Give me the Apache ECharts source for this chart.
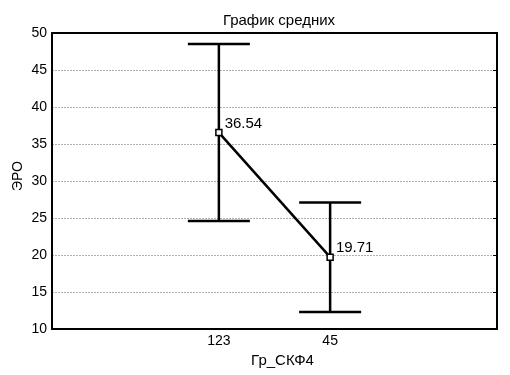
<!DOCTYPE html>
<html><head><meta charset="utf-8">
<script src="https://cdn.jsdelivr.net/npm/echarts@6/dist/echarts.min.js"></script>
<style>html,body{margin:0;padding:0;background:#fff}#c{width:510px;height:375px}</style>
</head><body><div id="c"></div>
<script>
const categories = ['123', '45'];
const means = [36.54, 19.71];
const upper = [48.5, 27.1];
const lower = [24.6, 12.3];
const yTicks = [10, 15, 20, 25, 30, 35, 40, 45, 50];
const title = 'График средних';
const xName = 'Гр_СКФ4';
const yName = 'ЭРО';

const axisCats = [' '].concat(categories, ['  ']);
const font = 'Arial, "Liberation Sans", sans-serif';
const chart = echarts.init(document.getElementById('c'));
const errData = categories.map((c, i) => [c, lower[i], upper[i]]);
const meanData = categories.map((c, i) => [c, means[i]]);

chart.setOption({
  animation: false,
  title: { text: title, left: 274, textAlign: 'center', top: 8,
    textStyle: { fontFamily: font, fontSize: 15, fontWeight: 'normal', color: '#000' } },
  grid: { left: 52, right: 13, top: 33, bottom: 46, containLabel: false, outerBoundsMode: 'none' },
  xAxis: [{
    type: 'category', data: axisCats, position: 'bottom',
    name: xName, nameLocation: 'middle', nameGap: 19,
    nameTextStyle: { fontFamily: font, fontSize: 15, color: '#000', padding: [0, 0, 0, 16] },
    axisLine: { lineStyle: { color: '#000', width: 2 } },
    axisTick: { alignWithLabel: true, inside: true, length: 4, lineStyle: { color: '#000' } },
    axisLabel: { fontFamily: font, fontSize: 14, color: '#000', margin: 5 },
    splitLine: { show: false }
  }, {
    type: 'category', data: axisCats, position: 'top',
    axisLine: { lineStyle: { color: '#000', width: 2 } },
    axisTick: { alignWithLabel: true, inside: true, length: 4, lineStyle: { color: '#000' } },
    axisLabel: { show: false }, splitLine: { show: false }
  }],
  yAxis: [{
    type: 'value', min: yTicks[0], max: yTicks[yTicks.length - 1], interval: 5,
    name: yName, nameLocation: 'middle', nameGap: 27, nameRotate: 90, nameMoveOverlap: false,
    nameTextStyle: { fontFamily: font, fontSize: 14, color: '#000', padding: [0, 0, 0, 10] },
    axisLine: { show: true, lineStyle: { color: '#000', width: 2 } },
    axisTick: { show: false },
    axisLabel: { fontFamily: font, fontSize: 14, color: '#000', margin: 5 },
    splitLine: { show: true, lineStyle: { color: '#b0b0b0', type: [2, 1], width: 1 } }
  }, {
    type: 'value', min: yTicks[0], max: yTicks[yTicks.length - 1], interval: 5, position: 'right',
    axisLine: { show: true, lineStyle: { color: '#000', width: 2 } },
    axisTick: { show: true, inside: true, length: 4, lineStyle: { color: '#000' } },
    axisLabel: { show: false }, splitLine: { show: false }
  }],
  series: [{
    type: 'custom',
    data: errData,
    z: 3,
    renderItem: function (params, api) {
      const x = api.value(0);
      const lo = api.coord([x, api.value(1)]);
      const hi = api.coord([x, api.value(2)]);
      const half = 31;
      const st = { stroke: '#000', lineWidth: 2.5 };
      return { type: 'group', children: [
        { type: 'line', shape: { x1: lo[0], y1: lo[1], x2: hi[0], y2: hi[1] }, style: st },
        { type: 'line', shape: { x1: hi[0] - half, y1: hi[1], x2: hi[0] + half, y2: hi[1] }, style: st },
        { type: 'line', shape: { x1: lo[0] - half, y1: lo[1], x2: lo[0] + half, y2: lo[1] }, style: st }
      ]};
    }
  }, {
    type: 'line', data: meanData, z: 5,
    symbol: 'rect', symbolSize: 6,
    lineStyle: { color: '#000', width: 2.5 },
    itemStyle: { color: '#fff', borderColor: '#000', borderWidth: 1.5 },
    label: { show: true, position: 'right', offset: [-3, -9],
      formatter: p => p.value[1].toFixed(2),
      fontFamily: font, fontSize: 15, color: '#000' }
  }]
});
</script></body></html>
